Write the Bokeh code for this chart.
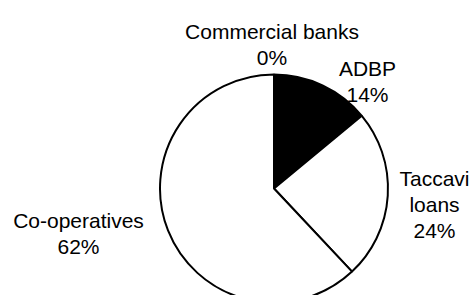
from math import pi
from bokeh.plotting import figure
from bokeh.models import Range1d, ColumnDataSource
from bokeh.core.properties import value
from bokeh.embed import file_html
from bokeh.resources import INLINE

# ---- data ----
categories = ["Commercial banks", "ADBP", "Taccavi\nloans", "Co-operatives"]
shares = [0, 14, 24, 62]
fill_colors = ["white", "black", "white", "white"]

# ---- layout (pixel-like data units) ----
W, H = 475, 295
cx, cy, r = 273.5, 107.0, 114.0
label_anchor_x = [271.5, 367.0, 434.0, 78.0]       # centre x of each label block
label_first_baseline = [264.0, 227.5, 117.0, 75.5]  # y of first line baseline
line_step = 26.0

p = figure(width=W, height=H, output_backend="svg", toolbar_location=None,
           x_range=Range1d(0, W), y_range=Range1d(0, H), min_border=0)
p.axis.visible = False
p.grid.visible = False
p.outline_line_color = None
p.background_fill_color = "white"
p.border_fill_color = "white"

# wedges (clockwise from 12 o'clock)
total = float(sum(shares))
starts, ends, cols = [], [], []
a = pi / 2
for v, c in zip(shares, fill_colors):
    span = 2 * pi * v / total
    if v > 0:
        starts.append(a - span)
        ends.append(a)
        cols.append(c)
    a -= span
src = ColumnDataSource(dict(x=[cx] * len(starts), y=[cy] * len(starts),
                            start=starts, end=ends, color=cols))
p.wedge(x="x", y="y", radius=r, start_angle="start", end_angle="end",
        direction="anticlock", fill_color="color", line_color="black",
        line_width=2, source=src)

# labels
tx, ty, tt = [], [], []
for lab, v, lx, ly in zip(categories, shares, label_anchor_x, label_first_baseline):
    lines = lab.split("\n") + [f"{v}%"]
    for i, ln in enumerate(lines):
        tx.append(lx)
        ty.append(ly - i * line_step)
        tt.append(ln)
p.text(x=tx, y=ty, text=tt, text_align="center", text_baseline="alphabetic",
       text_font=value("Liberation Sans"), text_font_size="21px",
       text_color="black")

open("out.html", "w").write(file_html(p, INLINE))
